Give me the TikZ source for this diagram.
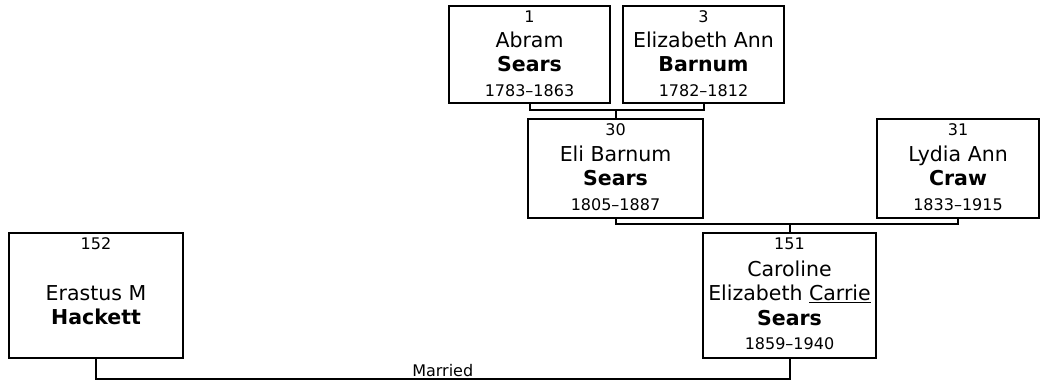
\documentclass[tikz,border=0pt]{standalone}
\usepackage{fontspec}
\setmainfont{DejaVu Sans}
\usetikzlibrary{calc}
\newcommand{\namefont}{\fontsize{20.5}{24.5}\selectfont}
\newcommand{\datefont}{\fontsize{16}{24.5}\selectfont}
\newcommand{\numfont}{\fontsize{16}{18}\selectfont}
\tikzset{
  person/.style={draw,line width=2pt,inner sep=0pt},
  numtext/.style={font=\numfont,inner sep=0pt},
  bodytext/.style={font=\namefont,align=center,inner sep=0pt},
  link/.style={line width=2pt}
}

\begin{document}
\begin{tikzpicture}[x=1pt,y=-1pt]
  \useasboundingbox (0,0) rectangle (1040,381);
  \foreach \id/\cx/\cy/\w/\h/\num/\body in {
      p1/529.5/54.5/161/97/1/{Abram\\\textbf{Sears}\\{\datefont 1783--1863}},
      p3/703.5/54.5/161/97/3/{Elizabeth Ann\\\textbf{Barnum}\\{\datefont 1782--1812}},
      p30/615.5/168.5/175/99/30/{Eli Barnum\\\textbf{Sears}\\{\datefont 1805--1887}},
      p31/958/168.5/162/99/31/{Lydia Ann\\\textbf{Craw}\\{\datefont 1833--1915}},
      p152/96/295.5/174/125/152/{Erastus M\\\textbf{Hackett}},
      p151/789.5/295.5/173/125/151/{Caroline\\Elizabeth \underline{Carrie}\\\textbf{Sears}\\{\datefont 1859--1940}}}{
    \node[person,minimum width=\w pt,minimum height=\h pt] (\id) at (\cx,\cy){};
    \node[numtext,anchor=base] (\id-n) at ([yshift=-17.5pt]\id.north){\num};
    \node[bodytext,yshift=-1pt] at ($(\id-n.base)!0.5!(\id.south)$){\body};
  }
  \coordinate (f1) at ([yshift=8pt]p30.north);
  \coordinate (f2) at ([yshift=8pt]p151.north);
  \coordinate (m) at ([yshift=-20pt]p151.south);
  \draw[link] (p1.south) |- (f1) -| (p3.south);
  \draw[link] (f1) -- (p30.north);
  \draw[link] (p30.south) |- (f2) -| (p31.south);
  \draw[link] (f2) -- (p151.north);
  \draw[link] (p152.south) -- (p152.south |- m)
    -- node[above=1.5pt,font=\numfont,inner sep=0pt]{Married} (m) -- (p151.south);
\end{tikzpicture}
\end{document}
